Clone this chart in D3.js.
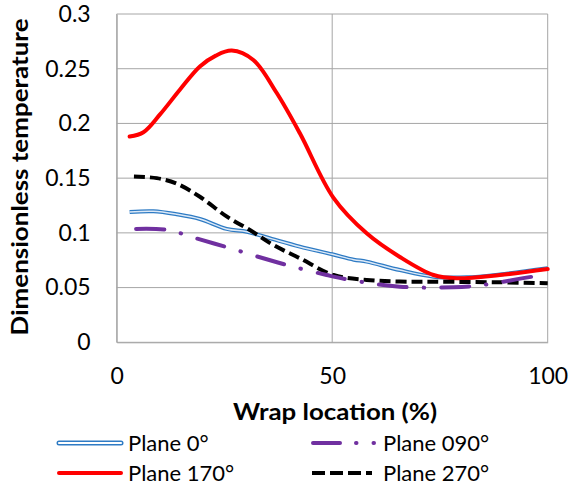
<!DOCTYPE html>
<html><head><meta charset="utf-8">
<script src="https://cdn.jsdelivr.net/npm/d3@7"></script>
<style>
body{margin:0;background:#fff;}
svg{display:block;font-family:Lato,"Open Sans",sans-serif;}
</style></head>
<body><svg id="c" width="569" height="487"></svg>
<script>
const xTicks = [0, 50, 100];
const yTicks = [0, 0.05, 0.1, 0.15, 0.2, 0.25, 0.3];
const yTickLabels = ["0", "0.05", "0.1", "0.15", "0.2", "0.25", "0.3"];

const plane0X = [3, 8.5, 13.9, 19.3, 25.5, 30.2, 36, 42.5, 50, 55, 58, 65.7, 73.5, 81.2, 88.9, 100];
const plane0Y = [0.119, 0.1197, 0.117, 0.1127, 0.1036, 0.101, 0.0945, 0.0874, 0.0804, 0.0755, 0.0737, 0.066, 0.060, 0.0594, 0.062, 0.0676];

const plane090X = [4.5, 11.6, 19.3, 26.3, 34, 41, 48.7, 54.1, 65.7, 78.1, 85, 96.6, 100];
const plane090Y = [0.1036, 0.1027, 0.094, 0.086, 0.0768, 0.069, 0.0615, 0.057, 0.0508, 0.0503, 0.0524, 0.060, 0.061];

const plane170X = [3, 6.2, 10, 14.7, 19.3, 23, 26.7, 31.7, 37.1, 42.5, 50.3, 58, 65.7, 73.5, 78.9, 88.9, 100];
const plane170Y = [0.188, 0.192, 0.208, 0.231, 0.252, 0.262, 0.2666, 0.258, 0.228, 0.191, 0.132, 0.0996, 0.078, 0.0615, 0.0585, 0.0615, 0.067];

const plane270X = [4, 9.3, 13.9, 19.3, 25.5, 30.9, 36.3, 42.5, 50.3, 58, 65.7, 73.5, 88.9, 100];
const plane270Y = [0.1514, 0.150, 0.145, 0.133, 0.115, 0.1026, 0.089, 0.0768, 0.0615, 0.057, 0.0555, 0.0554, 0.0548, 0.054];

const seriesNames = ["Plane 0°", "Plane 090°", "Plane 170°", "Plane 270°"];

const svg = d3.select("#c");
const L = 116.7, R = 547.7, T = 14, B = 342.3;
const x = d3.scaleLinear().domain([0, 100]).range([L, R]);
const y = d3.scaleLinear().domain([0, 0.3]).range([B, T]);
const grid = "#a6a6a6";

// grid
svg.append("g").selectAll("line").data(yTicks).join("line")
  .attr("x1", L).attr("x2", R).attr("y1", d => y(d)).attr("y2", d => y(d))
  .attr("stroke", grid).attr("stroke-width", 1);
svg.append("g").selectAll("line").data(xTicks).join("line")
  .attr("x1", d => x(d)).attr("x2", d => x(d)).attr("y1", T).attr("y2", B)
  .attr("stroke", grid).attr("stroke-width", 1);

// axes
const yAxis = d3.axisLeft(y).tickValues(yTicks).tickFormat((d, i) => yTickLabels[i]).tickSize(0).tickPadding(26);
const gy = svg.append("g").attr("transform", `translate(${L},0)`).call(yAxis);
gy.select(".domain").attr("stroke", grid);
gy.selectAll("text").attr("font-size", 23).attr("fill", "#000").attr("font-family", "Lato");

const xAxis = d3.axisBottom(x).tickValues(xTicks).tickFormat(d3.format("d")).tickSize(0).tickPadding(25);
const gx = svg.append("g").attr("transform", `translate(0,${B})`).call(xAxis);
gx.select(".domain").attr("stroke", grid);
gx.selectAll("text").attr("font-size", 23).attr("fill", "#000").attr("font-family", "Lato");

// titles
svg.append("text").attr("x", 335).attr("y", 420).attr("text-anchor", "middle")
  .attr("font-size", 23).attr("font-weight", "bold")
  .attr("textLength", 204).attr("lengthAdjust", "spacingAndGlyphs").text("Wrap location (%)");
svg.append("text").attr("transform", "translate(28,177) rotate(-90)").attr("text-anchor", "middle")
  .attr("font-size", 23).attr("font-weight", "bold")
  .attr("textLength", 317).attr("lengthAdjust", "spacingAndGlyphs").text("Dimensionless temperature");

const line = d3.line().x(d => x(d[0])).y(d => y(d[1])).curve(d3.curveCatmullRom.alpha(0.5));
const zip = (a, b) => a.map((v, i) => [v, b[i]]);

const plot = svg.append("g");
// Plane 0 (double line)
plot.append("path").attr("d", line(zip(plane0X, plane0Y))).attr("fill", "none")
  .attr("stroke", "#2e7bc4").attr("stroke-width", 4);
plot.append("path").attr("d", line(zip(plane0X, plane0Y))).attr("fill", "none")
  .attr("stroke", "#dce9f7").attr("stroke-width", 1.5);
// Plane 170
plot.append("path").attr("d", line(zip(plane170X, plane170Y))).attr("fill", "none")
  .attr("stroke", "#ff0000").attr("stroke-width", 4).attr("stroke-linecap", "round");
// Plane 270
plot.append("path").attr("d", line(zip(plane270X, plane270Y))).attr("fill", "none")
  .attr("stroke", "#000").attr("stroke-width", 4).attr("stroke-dasharray", "11,5");
// Plane 090
plot.append("path").attr("d", line(zip(plane090X, plane090Y))).attr("fill", "none")
  .attr("stroke", "#7030a0").attr("stroke-width", 4).attr("stroke-linecap", "round")
  .attr("stroke-dasharray", "28,17,0.5,17");

// legend
const leg = svg.append("g").attr("font-size", 22);
const items = [
  {name: seriesNames[0], lx: 57, ly: 443},
  {name: seriesNames[1], lx: 312, ly: 443},
  {name: seriesNames[2], lx: 57, ly: 473},
  {name: seriesNames[3], lx: 312, ly: 473}
];
// Plane 0
leg.append("line").attr("x1", 59).attr("x2", 121).attr("y1", 443).attr("y2", 443)
  .attr("stroke", "#2e7bc4").attr("stroke-width", 5).attr("stroke-linecap", "round");
leg.append("line").attr("x1", 59).attr("x2", 121).attr("y1", 443).attr("y2", 443)
  .attr("stroke", "#ffffff").attr("stroke-width", 2.2).attr("stroke-linecap", "round");
// Plane 170
leg.append("line").attr("x1", 59).attr("x2", 121).attr("y1", 473).attr("y2", 473)
  .attr("stroke", "#ff0000").attr("stroke-width", 4).attr("stroke-linecap", "round");
// Plane 090
leg.append("line").attr("x1", 313).attr("x2", 376).attr("y1", 443).attr("y2", 443)
  .attr("stroke", "#7030a0").attr("stroke-width", 4).attr("stroke-linecap", "round")
  .attr("stroke-dasharray", "27,16,0.5,17,0.5,40");
// Plane 270
leg.append("line").attr("x1", 312).attr("x2", 372).attr("y1", 473).attr("y2", 473)
  .attr("stroke", "#000").attr("stroke-width", 4).attr("stroke-dasharray", "13,5");

leg.selectAll("text.l").data(items).join("text").attr("class", "l")
  .attr("x", d => d.lx < 100 ? 128 : 383).attr("y", d => d.ly + 8).text(d => d.name);
</script></body></html>
